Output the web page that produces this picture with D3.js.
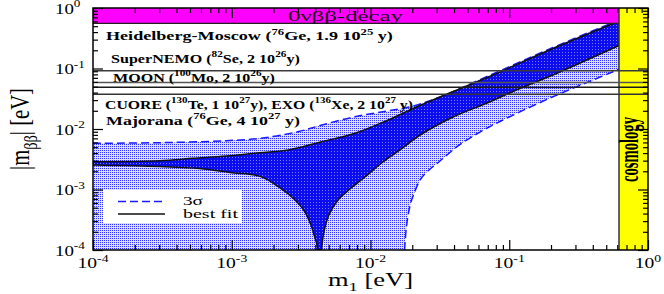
<!DOCTYPE html>
<html><head><meta charset="utf-8">
<script src="https://cdn.jsdelivr.net/npm/d3@7"></script>
<style>body{margin:0;background:#fff;} svg{display:block;} text{white-space:pre;}</style>
</head><body><svg id="c" width="664" height="294"></svg>
<script>
// ---------- data ----------
// best-fit band, upper edge (max |m_bb|)
const m1Max   = [1e-4, 3.03e-4, 5.26e-4, 9.14e-4, 1.59e-3, 2.56e-3, 4.45e-3, 7.72e-3, 0.0134, 0.0231, 0.0692, 0.2065, 0.621];
const bestMax = [2.88e-3, 2.99e-3, 3.28e-3, 3.58e-3, 4.06e-3, 4.50e-3, 6.17e-3, 8.49e-3, 0.0141, 0.0249, 0.0710, 0.214, 0.610];
// best-fit band, lower edge (min), left branch, cancellation dip, right branch
const m1MinL   = [1e-4, 3.04e-4, 5.90e-4, 9.70e-4, 1.60e-3, 2.23e-3, 2.86e-3, 3.37e-3, 3.72e-3, 3.98e-3, 4.19e-3];
const bestMinL = [2.54e-3, 2.40e-3, 2.22e-3, 1.91e-3, 1.65e-3, 1.06e-3, 6.7e-4, 4.25e-4, 2.59e-4, 1.58e-4, 1.0e-4];
const m1Dip = [4.3e-3];
const bestDip = [1e-5];
const m1MinR   = [4.44e-3, 4.62e-3, 5.02e-3, 5.83e-3, 7.11e-3, 9.12e-3, 0.0123, 0.0163, 0.0228, 0.0394, 0.0692, 0.1194, 0.2065, 0.618];
const bestMinR = [1.0e-4, 1.99e-4, 3.80e-4, 6.70e-4, 1.02e-3, 1.61e-3, 2.85e-3, 4.50e-3, 7.96e-3, 0.0158, 0.0269, 0.0467, 0.0782, 0.240];
// 3 sigma region
const m1Up3 = [1e-4, 3.04e-4, 9.10e-4, 1.60e-3, 3.00e-3, 4.47e-3, 7.72e-3, 0.01336, 0.0199, 0.0317, 0.0692, 0.2065, 0.618];
const up3   = [5.81e-3, 5.94e-3, 6.41e-3, 7.02e-3, 9.02e-3, 0.01164, 0.01596, 0.01987, 0.0236, 0.0338, 0.0738, 0.222, 0.634];
const m1Lo3 = [0.0176, 0.01815, 0.0193, 0.0204, 0.0228, 0.0255, 0.0317, 0.0428, 0.0615, 0.0857, 0.197, 0.560, 0.618];
const lo3   = [1.0e-4, 2.4e-4, 5.5e-4, 8.1e-4, 1.44e-3, 1.95e-3, 2.96e-3, 5.24e-3, 8.9e-3, 0.0133, 0.0325, 0.0885, 0.0977];
// experimental sensitivities (horizontal lines) and bounds
const expLimits = [0.0919, 0.0587, 0.0490, 0.0375];
const expColors = ["#3a3a3a", "#555555", "#1a1a1a", "#333333"];
const hmLimit = 0.558;       // 0nbb excluded (above)
const cosmoLimit = 0.618;    // cosmology excluded (right)
// ticks
const majorTicks = [1e-4, 1e-3, 1e-2, 1e-1, 1];
const tickExps = ["-4", "-3", "-2", "-1", "0"];
// labels
const expLabels = [
  {parts:[["Heidelberg-Moscow (",0],["76",1],["Ge, 1.9 10",0],["25",1],[" y)",0]], x:106, y:40, w:287},
  {parts:[["SuperNEMO (",0],["82",1],["Se, 2 10",0],["26",1],["y)",0]], x:111, y:62.5, w:189},
  {parts:[["MOON (",0],["100",1],["Mo, 2 10",0],["26",1],["y)",0]], x:113, y:81.5, w:162},
  {parts:[["CUORE (",0],["130",1],["Te, 1 10",0],["27",1],["y), EXO (",0],["136",1],["Xe, 2 10",0],["27",1],[" y)",0]], x:105, y:108.5, w:308},
  {parts:[["Majorana (",0],["76",1],["Ge, 4 10",0],["27",1],[" y)",0]], x:106, y:124.5, w:194}
];

// ---------- setup ----------
const SERIF = "'Liberation Serif','Times New Roman',serif";
const M = {l:93, r:648, t:8, b:250};
const x = d3.scaleLog().domain([1e-4, 1]).range([M.l, M.r]);
const y = d3.scaleLog().domain([1e-4, 1]).range([M.b, M.t]);
const svg = d3.select('#c');
const defs = svg.append('defs');
defs.append('clipPath').attr('id','clip').append('rect')
  .attr('x',M.l).attr('y',M.t).attr('width',M.r-M.l).attr('height',M.b-M.t);
const pl = defs.append('pattern').attr('id','pl').attr('patternUnits','userSpaceOnUse').attr('width',2).attr('height',2);
pl.append('rect').attr('width',2).attr('height',2).attr('fill','#dcdcff');
pl.append('rect').attr('width',1).attr('height',1).attr('fill','#3232ff');
const pd = defs.append('pattern').attr('id','pd').attr('patternUnits','userSpaceOnUse').attr('width',3).attr('height',3);
pd.append('rect').attr('width',3).attr('height',3).attr('fill','#0c0cf0');
pd.append('rect').attr('x',1).attr('y',1).attr('width',1).attr('height',1).attr('fill','#7a7aff');

const zip = (a,b) => a.map((v,i)=>[v,b[i]]);
const line = d3.line().x(d=>x(d[0])).y(d=>y(d[1])).curve(d3.curveCatmullRom.alpha(0.5));

const plot = svg.append('g').attr('clip-path','url(#clip)');

// 3 sigma light region
const upPts = zip(m1Up3, up3);
const loPts = zip(m1Lo3, lo3).reverse();
const dLight = line(upPts) + 'L' + line(loPts).slice(1) + `L${x(1e-4)},${y(1e-4)}Z`;
plot.append('path').attr('d', dLight).attr('fill','url(#pl)');
// dashed 3 sigma bounds
plot.append('path').attr('d', line(upPts)).attr('fill','none').attr('stroke','#1a1aff').attr('stroke-width',1.5).attr('stroke-dasharray','8,4');
plot.append('path').attr('d', line(zip(m1Lo3, lo3))).attr('fill','none').attr('stroke','#1a1aff').attr('stroke-width',1.5).attr('stroke-dasharray','8,4');

// best-fit dark band
const maxPts = zip(m1Max, bestMax);
const minPts = zip(m1MinL, bestMinL).concat(zip(m1Dip, bestDip), zip(m1MinR, bestMinR));
const dDark = line(maxPts) + 'L' + line(minPts.slice().reverse()).slice(1) + 'Z';
plot.append('path').attr('d', dDark).attr('fill','url(#pd)');
plot.append('path').attr('d', line(maxPts)).attr('fill','none').attr('stroke','#111').attr('stroke-width',1.5);
plot.append('path').attr('d', line(minPts)).attr('fill','none').attr('stroke','#111').attr('stroke-width',1.5);

// excluded regions
plot.append('rect').attr('x',M.l).attr('y',M.t).attr('width',x(cosmoLimit)-M.l).attr('height',y(hmLimit)-M.t).attr('fill','#ff00ff');
plot.append('line').attr('x1',M.l).attr('x2',x(cosmoLimit)).attr('y1',y(hmLimit)).attr('y2',y(hmLimit)).attr('stroke','#222').attr('stroke-width',1.2);
plot.append('rect').attr('x',x(cosmoLimit)).attr('y',M.t).attr('width',M.r-x(cosmoLimit)).attr('height',M.b-M.t).attr('fill','#ffff00');
plot.append('line').attr('x1',x(cosmoLimit)).attr('x2',x(cosmoLimit)).attr('y1',M.t).attr('y2',M.b).attr('stroke','#333').attr('stroke-width',1.5);

// experiment sensitivity lines
plot.selectAll('.exp').data(expLimits).enter().append('line')
  .attr('x1',M.l).attr('x2',M.r).attr('y1',d=>y(d)).attr('y2',d=>y(d))
  .attr('stroke',(d,i)=>expColors[i]).attr('stroke-width',1.4);

// legend
svg.append('rect').attr('x',103).attr('y',190).attr('width',139).attr('height',33).attr('fill','#fff');
svg.append('line').attr('x1',118).attr('x2',165).attr('y1',201.5).attr('y2',201.5).attr('stroke','#1a1aff').attr('stroke-width',1.5).attr('stroke-dasharray','8,4');
svg.append('line').attr('x1',118).attr('x2',165).attr('y1',214).attr('y2',214).attr('stroke','#111').attr('stroke-width',1.5);

// ---------- text helpers ----------
function rich(t, parts, size){
  let cur = 0;
  parts.forEach(([s,m])=>{
    const target = m===1 ? -size*0.42 : (m===-1 ? size*0.28 : 0);
    t.append('tspan').attr('dy', target-cur).attr('font-size', m ? size*0.7 : size).text(s);
    cur = target;
  });
}
function hText(parts, x0, yb, size, weight, targetW, opts={}){
  const g = svg.append('g');
  const t = g.append('text').attr('font-family',SERIF).attr('font-size',size).attr('font-weight',weight)
    .attr('fill', opts.fill || '#000');
  rich(t, parts, size);
  const w = t.node().getComputedTextLength();
  const s = targetW ? targetW / w : (opts.scale || 1);
  const left = opts.center ? x0 - s*w/2 : x0;
  g.attr('transform', `translate(${left},${yb}) scale(${s},1)`);
  return g;
}
function vText(parts, xb, yStart, size, weight, L, sx){
  const g = svg.append('g');
  const t = g.append('text').attr('font-family',SERIF).attr('font-size',size).attr('font-weight',weight);
  rich(t, parts, size);
  const w = t.node().getComputedTextLength();
  g.attr('transform', `translate(${xb},${yStart}) scale(${sx},1) rotate(-90) scale(${L/w},1)`);
}

// labels inside plot
expLabels.forEach(e => hText(e.parts, e.x, e.y, 12, 'bold', e.w));
hText([["0\u03bd\u03b2\u03b2-decay",0]], 288, 20.5, 15, 'normal', 115, {fill:'#111'});
vText([["cosmology",0]], 638, 182, 14.6, 'bold', 65, 1.9);
// legend text
hText([["3\u03c3",0]], 183, 204.5, 12, 'normal', 20);
hText([["best fit",0]], 183, 218, 12, 'normal', 55);

// ---------- axes ----------
const minorTicks = x.ticks().filter(v => !majorTicks.some(m => Math.abs(m - v) < 1e-12));
function ax(gen, tr, vals, size){
  svg.append('g').attr('transform', tr)
    .call(gen.tickValues(vals).tickSize(-size).tickFormat(''))
    .call(g => g.select('.domain').remove())
    .selectAll('line').attr('stroke','#000').attr('stroke-width',1.2);
}
ax(d3.axisBottom(x), `translate(0,${M.b})`, majorTicks, 10);
ax(d3.axisBottom(x), `translate(0,${M.b})`, minorTicks, 5);
ax(d3.axisTop(x), `translate(0,${M.t})`, majorTicks, 10);
ax(d3.axisTop(x), `translate(0,${M.t})`, minorTicks, 5);
ax(d3.axisLeft(y), `translate(${M.l},0)`, majorTicks, 10);
ax(d3.axisLeft(y), `translate(${M.l},0)`, minorTicks, 5);
ax(d3.axisRight(y), `translate(${M.r},0)`, majorTicks, 10);
ax(d3.axisRight(y), `translate(${M.r},0)`, minorTicks, 5);
svg.append('rect').attr('x',M.l).attr('y',M.t).attr('width',M.r-M.l).attr('height',M.b-M.t)
  .attr('fill','none').attr('stroke','#000').attr('stroke-width',1.5);

// tick labels
majorTicks.forEach((v,i) => {
  hText([["10",0],[tickExps[i],1]], x(v), 268, 14.5, 'normal', null, {center:true, scale:1.35});
  hText([["10",0],[tickExps[i],1]], 55, y(v)+5.5, 14.5, 'normal', null, {scale:1.3});
});

// axis titles
hText([["m",0],["1",-1],[" [eV]",0]], 328, 286, 18, 'normal', 85);
vText([["|m",0],["\u03b2\u03b2",-1],["| [eV]",0]], 29, 170, 19, 'normal', 82, 1.45);
</script>
</body></html>
